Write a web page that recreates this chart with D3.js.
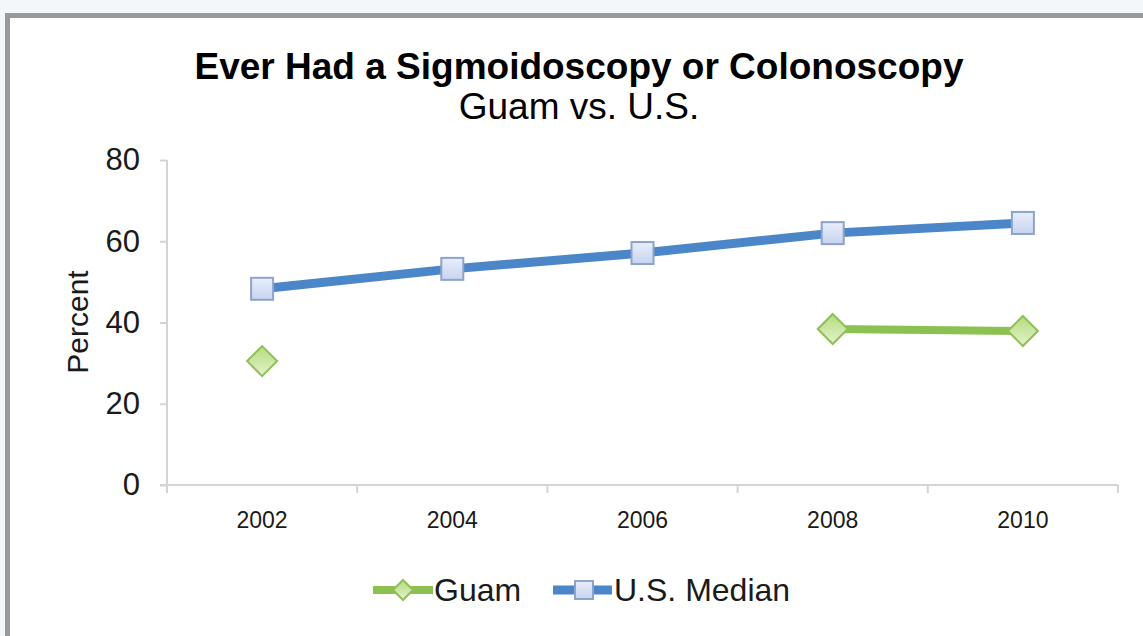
<!DOCTYPE html>
<meta charset="utf-8">
<html>
<style>
body { margin: 0; background: #f3f6fb; }
svg { display: block; font-family: "Liberation Sans", Arial, sans-serif; }
.axis path, .axis line { stroke: #d4d4d4; stroke-width: 2px; }
.axis text { fill: #1a1a1a; }
</style>
<svg width="1143" height="636"></svg>
<script src="https://d3js.org/d3.v7.min.js"></script>
<script>
var years = ["2002", "2004", "2006", "2008", "2010"];
var usMedian = [48.3, 53.2, 57.1, 62.0, 64.5];
var guam = [30.5, null, null, 38.4, 37.9];
var yTicks = [0, 20, 40, 60, 80];

var svg = d3.select("svg");

// frame
svg.append("rect").attr("x", 7.5).attr("y", 15.5).attr("width", 1150).attr("height", 640)
    .attr("fill", "#fff").attr("stroke", "#999").attr("stroke-width", 5);

var plotL = 167, plotR = 1118, plotT = 160, plotB = 485;

var x = d3.scaleBand().domain(years).range([plotL, plotR]);
var y = d3.scaleLinear().domain([0, 80]).range([plotB, plotT]);

// title
svg.append("text").attr("x", 579).attr("y", 79).attr("text-anchor", "middle")
    .style("font-size", "37px").style("font-weight", "bold").text("Ever Had a Sigmoidoscopy or Colonoscopy");
svg.append("text").attr("x", 579).attr("y", 119).attr("text-anchor", "middle")
    .style("font-size", "37px").text("Guam vs. U.S.");

// y axis
var yAxis = svg.append("g").attr("class", "axis").attr("transform", "translate(" + plotL + ",0)")
    .call(d3.axisLeft(y).tickValues(yTicks).tickSize(7).tickPadding(20));
yAxis.select(".domain").remove();
yAxis.append("line").attr("y1", plotT).attr("y2", plotB + 8);
yAxis.selectAll("text").style("font-size", "31px");

// x axis, ticks at category boundaries
var xAxis = svg.append("g").attr("class", "axis").attr("transform", "translate(0," + plotB + ")");
xAxis.append("line").attr("x1", plotL - 7).attr("x2", plotR);
var bounds = years.map(function(d) { return x(d); }).concat([plotR]);
xAxis.selectAll(".tk").data(bounds).enter().append("line")
    .attr("x1", function(d) { return d; }).attr("x2", function(d) { return d; })
    .attr("y1", 0).attr("y2", 8);
xAxis.selectAll(".lbl").data(years).enter().append("text")
    .attr("x", function(d) { return x(d) + x.bandwidth() / 2; }).attr("y", 43)
    .attr("text-anchor", "middle").style("font-size", "23px").text(function(d) { return d; });

svg.append("text").attr("transform", "translate(88,322) rotate(-90)").attr("text-anchor", "middle")
    .style("font-size", "30px").style("fill", "#1a1a1a").text("Percent");

// gradients
var defs = svg.append("defs");
var gb = defs.append("linearGradient").attr("id", "gb").attr("x1", 0).attr("y1", 0).attr("x2", 0).attr("y2", 1);
gb.append("stop").attr("offset", "0%").attr("stop-color", "#e8eefb");
gb.append("stop").attr("offset", "100%").attr("stop-color", "#c7d4ef");
var gg = defs.append("linearGradient").attr("id", "gg").attr("x1", 0).attr("y1", 0).attr("x2", 0).attr("y2", 1);
gg.append("stop").attr("offset", "0%").attr("stop-color", "#b5dc7e");
gg.append("stop").attr("offset", "100%").attr("stop-color", "#e3f2cc");

var cx = function(i) { return x(years[i]) + x.bandwidth() / 2; };

var line = d3.line().defined(function(d) { return d != null; })
    .x(function(d, i) { return cx(i); }).y(function(d) { return y(d); });

svg.append("path").datum(usMedian).attr("d", line).attr("fill", "none")
    .attr("stroke", "#4a86c8").attr("stroke-width", 9);
svg.append("path").datum(guam).attr("d", line).attr("fill", "none")
    .attr("stroke", "#8cc152").attr("stroke-width", 8);

function square(g, px, py, h) {
  g.append("rect").attr("x", px - h).attr("y", py - h).attr("width", 2 * h).attr("height", 2 * h)
      .attr("fill", "url(#gb)").attr("stroke", "#8ea2cc").attr("stroke-width", 2);
}
function diamond(g, px, py, h) {
  g.append("path").attr("d", "M" + px + "," + (py - h) + "L" + (px + h) + "," + py + "L" + px + "," + (py + h) + "L" + (px - h) + "," + py + "Z")
      .attr("fill", "url(#gg)").attr("stroke", "#8fc057").attr("stroke-width", 2);
}

var marks = svg.append("g");
usMedian.forEach(function(d, i) { if (d != null) square(marks, cx(i), y(d), 11); });
guam.forEach(function(d, i) { if (d != null) diamond(marks, cx(i), y(d), 15); });

// legend
var lg = svg.append("g");
lg.append("line").attr("x1", 373).attr("x2", 433).attr("y1", 590).attr("y2", 590)
    .attr("stroke", "#8cc152").attr("stroke-width", 8);
diamond(lg, 403, 590, 10);
lg.append("text").attr("x", 434).attr("y", 601).style("font-size", "32px").style("fill", "#1a1a1a").text("Guam");
lg.append("line").attr("x1", 553).attr("x2", 612).attr("y1", 590).attr("y2", 590)
    .attr("stroke", "#4a86c8").attr("stroke-width", 9);
square(lg, 584, 590, 9);
lg.append("text").attr("x", 614).attr("y", 601).style("font-size", "32px").style("fill", "#1a1a1a").text("U.S. Median");
</script>
</html>
